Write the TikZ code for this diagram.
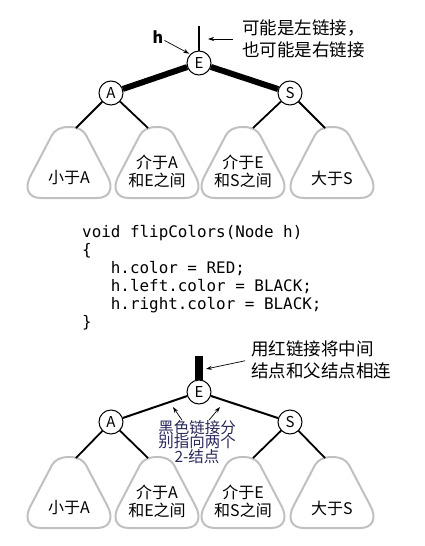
\documentclass[tikz,border=0pt]{standalone}
\usepackage{fontspec}
\setmainfont{Noto Sans CJK SC}
\newfontfamily\codefont{DejaVu Sans Mono}
\usetikzlibrary{arrows.meta,positioning}
\definecolor{treegray}{RGB}{192,192,192}
\definecolor{notenavy}{RGB}{40,40,90}
\tikzset{
  key/.style={circle, draw, line width=1pt, fill=white, minimum size=24pt, inner sep=0pt, font=\fontsize{15}{15}\selectfont},
  subtree/.style={draw=treegray, line width=2pt},
  leaf/.style={font=\fontsize{16}{18}\selectfont, align=center, inner sep=0pt},
  note/.style={font=\fontsize{17.5}{22}\selectfont, align=left, anchor=west, inner sep=0pt},
  ptr/.style={-{Stealth[length=6pt, width=4pt]}, line width=0.7pt}
}
\newcommand\treeblob{(0,0) .. controls (9,0) and (14,3) .. (17,8) -- (39,50) .. controls (44,60) and (42,71) .. (28,71) -- (-28,71) .. controls (-42,71) and (-44,60) .. (-39,50) -- (-17,8) .. controls (-14,3) and (-9,0) .. (0,0) -- cycle}
\begin{document}
\begin{tikzpicture}[x=1pt, y=-1pt]
\useasboundingbox (0,0) rectangle (425,546);
% Upper tree: subtrees
\foreach \cx in {69,157,243,332}
  \draw[subtree, shift={(\cx,127)}] \treeblob;
\node[leaf] (lessA1) at (69,178) {小于A};
\node[leaf] (midAE1) at (157,171) {介于A\\和E之间};
\node[leaf] (midES1) at (243,171) {介于E\\和S之间};
\node[leaf] (moreS1) at (332,178) {大于S};
\coordinate (t1a) at (76,128); \coordinate (t1b) at (148,128);
\coordinate (t1c) at (253,128); \coordinate (t1d) at (325,128);
% Upper tree: keys and links
\coordinate (topstub) at (199,26);
\node[key] (E1) at (199,63) {E};
\node[key] (A1) at (111,93) {A};
\node[key] (S1) at (290,93) {S};
\draw[line width=2pt] (topstub) -- (E1);
\draw[line width=6pt] (E1) -- (A1);
\draw[line width=6pt] (E1) -- (S1);
\draw[line width=1.8pt] (A1) -- (t1a); \draw[line width=1.8pt] (A1) -- (t1b);
\draw[line width=1.8pt] (S1) -- (t1c); \draw[line width=1.8pt] (S1) -- (t1d);
% Upper labels
\node[font=\bfseries\fontsize{16}{16}\selectfont, inner sep=1pt] (hlabel) at (158,37) {h};
\draw[ptr, shorten >=1pt] (hlabel) -- (E1.north west);
\node[note] (topnote) at (242,39) {可能是左链接，\\也可能是右链接};
\draw[ptr, shorten <=9pt, shorten >=9pt] (topnote.west) -- (topstub |- topnote.west);
% Code
\node[font=\codefont\fontsize{15.9}{18}\selectfont, align=left, anchor=west, inner sep=0pt] (code) at (82,278)
  {void flipColors(Node h)\\\{\\\phantom{xxx}h.color = RED;\\\phantom{xxx}h.left.color = BLACK;\\\phantom{xxx}h.right.color = BLACK;\\\}};
% Lower tree: subtrees
\foreach \cx in {69,157,243,332}
  \draw[subtree, shift={(\cx,457)}] \treeblob;
\node[leaf] (lessA2) at (69,508) {小于A};
\node[leaf] (midAE2) at (157,501) {介于A\\和E之间};
\node[leaf] (midES2) at (243,501) {介于E\\和S之间};
\node[leaf] (moreS2) at (332,508) {大于S};
\coordinate (t2a) at (76,458); \coordinate (t2b) at (148,458);
\coordinate (t2c) at (253,458); \coordinate (t2d) at (325,458);
% Lower tree: keys and links
\coordinate (bar) at (199,356);
\node[key] (E2) at (199,392) {E};
\node[key] (A2) at (111,422) {A};
\node[key] (S2) at (290,422) {S};
\draw[line width=8pt] (bar) -- (E2);
\draw[line width=2pt] (E2) -- (A2);
\draw[line width=2pt] (E2) -- (S2);
\draw[line width=1.8pt] (A2) -- (t2a); \draw[line width=1.8pt] (A2) -- (t2b);
\draw[line width=1.8pt] (S2) -- (t2c); \draw[line width=1.8pt] (S2) -- (t2d);
% Lower labels
\node[note] (botnote) at (251,359.5) {用红链接将中间\\结点和父结点相连};
\coordinate (barside) at (206,369);
\draw[ptr, shorten <=6pt] (botnote.west) -- (barside);
\node[font=\fontsize{15.5}{14.5}\selectfont, text=notenavy, align=center, inner sep=0pt] (blacknote) at (197,442) {黑色链接分\\别指向两个\\2-结点};
\coordinate (lefttip) at (173,407);
\coordinate (righttip) at (220,407);
\draw[ptr] ([xshift=-15pt]blacknote.north) -- (lefttip);
\draw[ptr] ([xshift=12pt]blacknote.north) -- (righttip);
\end{tikzpicture}
\end{document}
